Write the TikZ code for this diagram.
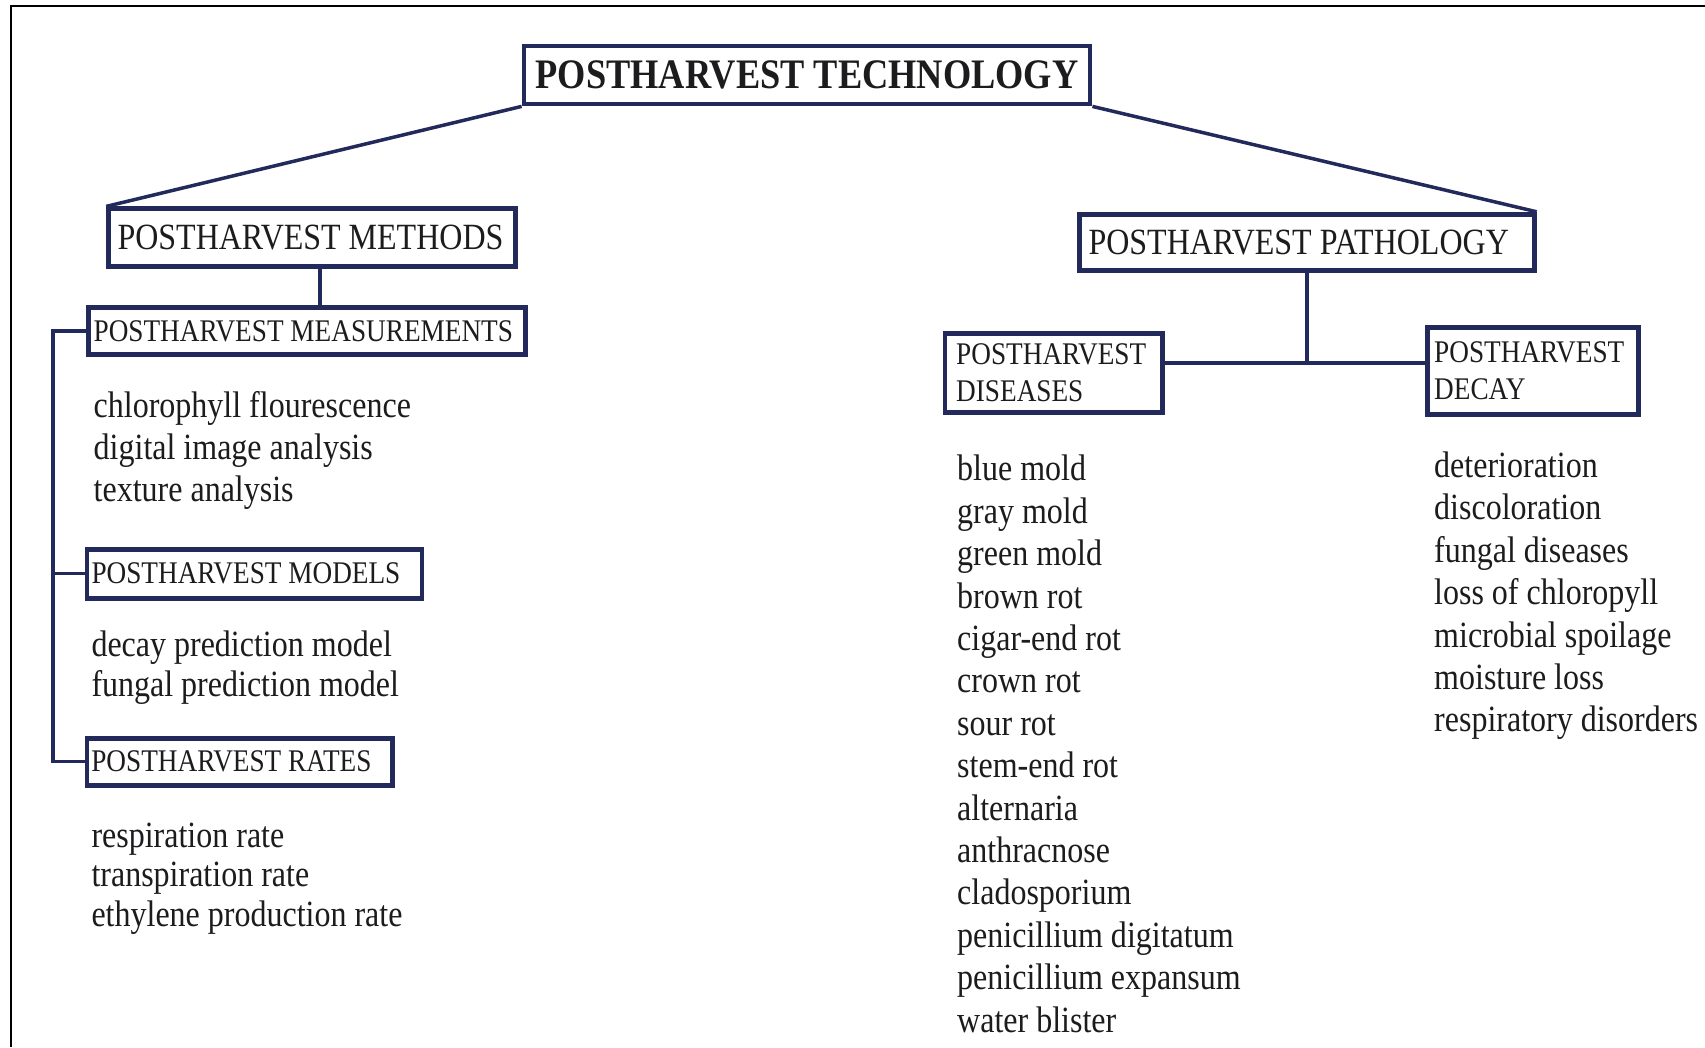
\documentclass[tikz,border=0pt]{standalone}
\usepackage{fontspec}
\setmainfont{Liberation Serif}[FakeStretch=0.865]
\definecolor{navy}{RGB}{34,42,92}
\definecolor{ink}{RGB}{28,28,30}
\newcommand{\lfit}[2]{\makebox[#1][l]{#2}}
\newcommand{\bodyfont}{\fontsize{37}{42}\selectfont}
\newcommand{\headfont}{\fontsize{37}{40}\selectfont}
\newcommand{\smallhead}{\fontsize{31.5}{37}\selectfont}
\newcommand{\topfont}{\fontsize{42}{46}\selectfont\bfseries}
\begin{document}
\begin{tikzpicture}[x=1pt,y=-1pt,
  hbox/.style={draw=navy, line width=4.8pt, fill=white, text=ink, inner ysep=0pt},
  conn/.style={draw=navy, line width=3.5pt},
  item/.style={anchor=base west, inner sep=0pt, font=\bodyfont, text=ink}]

\fill[white] (0,0) rectangle (1705,1047);
\useasboundingbox (0,0) rectangle (1705,1047);

% outer frame (top and left edges)
\draw[line width=2pt, black] (11,1047) -- (11,6) -- (1705,6);

% header boxes
\node[hbox, font=\topfont, minimum width=566pt, minimum height=58pt, inner xsep=0pt]
  (tech) at (807,75) {POSTHARVEST TECHNOLOGY};
\node[hbox, font=\headfont, minimum width=406.7pt, minimum height=57.6pt, inner xsep=8.7pt]
  (meth) at (312,237.6) {\lfit{389pt}{POSTHARVEST METHODS}};
\node[hbox, font=\headfont, minimum width=454.5pt, minimum height=56.6pt, inner xsep=8.7pt]
  (path) at (1307,242.5) {\lfit{437pt}{POSTHARVEST PATHOLOGY}};

\node[hbox, font=\smallhead, minimum width=437pt, minimum height=46.8pt, inner xsep=5.4pt]
  (meas) at (306.6,331.1) {\lfit{426pt}{POSTHARVEST MEASUREMENTS}};
\node[hbox, font=\smallhead, minimum width=335pt, minimum height=49pt, inner xsep=4.3pt]
  (models) at (254.5,573.6) {\lfit{326pt}{POSTHARVEST MODELS}};
\node[hbox, font=\smallhead, minimum width=305.6pt, minimum height=46.8pt, inner xsep=4.3pt]
  (rates) at (239.8,761.7) {\lfit{297pt}{POSTHARVEST RATES}};

\node[hbox, font=\smallhead, minimum width=217.4pt, minimum height=78.3pt, inner xsep=10.9pt, align=left]
  (dis) at (1053.7,373) {\lfit{195pt}{POSTHARVEST}\\\lfit{195pt}{DISEASES}};
\node[hbox, font=\smallhead, minimum width=211pt, minimum height=87pt, inner xsep=6.5pt, align=left]
  (dec) at (1533.2,370.8) {\lfit{198pt}{POSTHARVEST}\\\lfit{198pt}{DECAY}};

% connectors
\draw[conn] (tech.south west) -- (meth.north west);
\draw[conn] (tech.south east) -- (path.north east);
\coordinate (mx) at (320,0);
\draw[conn] (meth.south -| mx) -- (meas.north -| mx);
\coordinate (bx) at (53,0);
\draw[conn] (meas.west) -- (meas.west -| bx) -- (rates.west -| bx) -- (rates.west);
\draw[conn] (models.west -| bx) -- (models.west);
\coordinate (hy) at (0,363);
\draw[conn] (path.south) -- (path.south |- hy);
\draw[conn] (dis.east |- hy) -- (dec.west |- hy);

% item lists
\foreach \t [count=\i from 0] in {chlorophyll flourescence, digital image analysis, texture analysis}
  \node[item] (measitem\i) at ({93.5},{417.7+41.9*\i}) {\t};
\foreach \t [count=\i from 0] in {decay prediction model, fungal prediction model}
  \node[item] (modelitem\i) at ({91.3},{656.9+39.2*\i}) {\t};
\foreach \t [count=\i from 0] in {respiration rate, transpiration rate, ethylene production rate}
  \node[item] (rateitem\i) at ({91.3},{847.2+39.7*\i}) {\t};
\foreach \t [count=\i from 0] in {blue mold, gray mold, green mold, brown rot, cigar-end rot, crown rot, sour rot, stem-end rot, alternaria, anthracnose, cladosporium, penicillium digitatum, penicillium expansum, water blister}
  \node[item] (disitem\i) at ({957},{480.8+42.4*\i}) {\t};
\foreach \t [count=\i from 0] in {deterioration, discoloration, fungal diseases, loss of chloropyll, microbial spoilage, moisture loss, respiratory disorders}
  \node[item] (decitem\i) at ({1434},{477.5+42.4*\i}) {\t};

\end{tikzpicture}
\end{document}
